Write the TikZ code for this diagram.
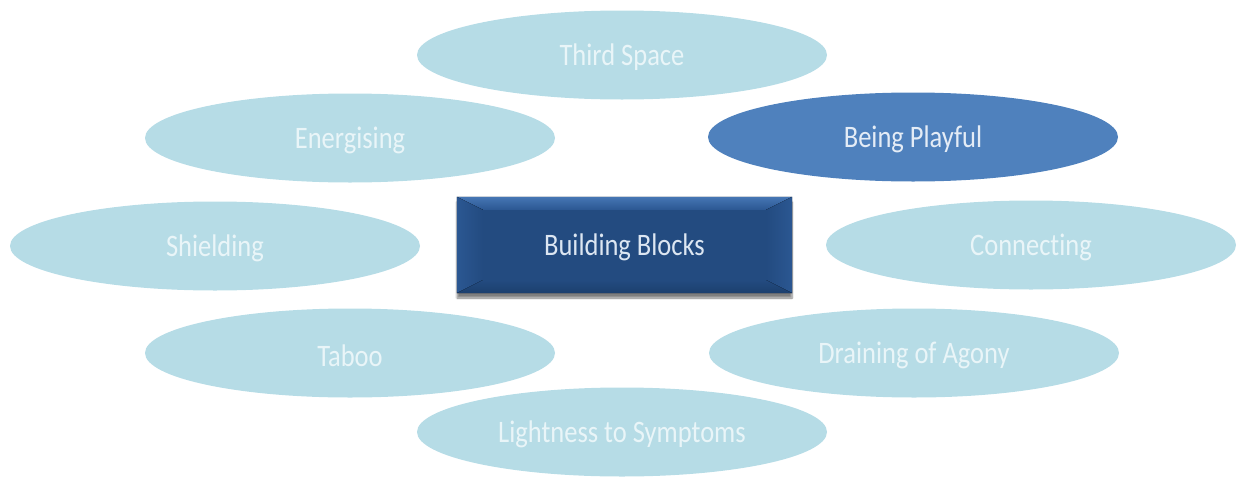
\documentclass[tikz,border=0pt]{standalone}
\usepackage{fontspec}
\setmainfont[Ligatures={NoCommon,NoRare}]{Carlito}
\usetikzlibrary{shapes.geometric,calc,shadows.blur}
\definecolor{lightfill}{HTML}{B6DCE6}
\definecolor{lighttext}{HTML}{E9F5F8}
\definecolor{midfill}{HTML}{4F81BD}
\definecolor{midtext}{HTML}{E4ECF6}
\definecolor{boxfill}{HTML}{234B80}
\definecolor{boxtop}{HTML}{4676B4}
\definecolor{boxside}{HTML}{2B5792}
\definecolor{boxbottom}{HTML}{1C3F6D}
\definecolor{boxtext}{HTML}{DCE6F2}
\newcommand{\tallt}[1]{\raisebox{-2.5pt}[\height][\depth]{\scalebox{1}[1.18]{#1}}}
\tikzset{
  oval/.style={ellipse, minimum width=410pt, minimum height=89pt, inner sep=0pt,
    font=\fontsize{26.5}{31}\selectfont},
  lightoval/.style={oval, fill=lightfill, text=lighttext},
  darkoval/.style={oval, fill=midfill, text=midtext},
  centerbox/.style={rectangle, minimum width=335pt, minimum height=96pt, inner sep=0pt,
    fill=boxfill, blur shadow={shadow xshift=0pt, shadow yshift=-5pt, shadow blur steps=7, shadow opacity=50}},
  bevel/.style={draw=none}
}
\begin{document}
\begin{tikzpicture}[x=1pt,y=-1pt]
\useasboundingbox (0,0) rectangle (1237,477);
\node[lightoval] (third) at (622,55) {\tallt{Third Space}};
\node[lightoval] (energ) at (350,138) {\tallt{Energising}};
\node[darkoval] (play) at (913,137) {\tallt{Being Playful}};
\node[lightoval] (shield) at (215,246) {\tallt{Shielding}};
\node[lightoval] (conn) at (1031,245) {\tallt{Connecting}};
\node[lightoval] (taboo) at (350,353) {\tallt{Taboo}};
\node[lightoval] (drain) at (914,353) {\tallt{Draining of Agony}};
\node[lightoval] (light) at (622,432) {\tallt{Lightness to Symptoms}};
\node[centerbox] (bb) at (624.5,245) {};
\coordinate (itl) at ($(bb.north west)+(26,13)$);
\coordinate (itr) at ($(bb.north east)+(-26,13)$);
\coordinate (ibl) at ($(bb.south west)+(26,-13)$);
\coordinate (ibr) at ($(bb.south east)+(-26,-13)$);
\fill[bevel, top color=boxtop, bottom color=boxside] (bb.north west) -- (bb.north east) -- (itr) -- (itl) -- cycle;
\fill[bevel, left color=boxside, right color=boxfill] (bb.north west) -- (itl) -- (ibl) -- (bb.south west) -- cycle;
\fill[bevel, left color=boxfill, right color=boxside] (bb.north east) -- (itr) -- (ibr) -- (bb.south east) -- cycle;
\fill[bevel, top color=boxfill, bottom color=boxbottom] (bb.south west) -- (ibl) -- (ibr) -- (bb.south east) -- cycle;
\node[font=\fontsize{26.5}{31}\selectfont, text=boxtext] (bbt) at (bb.center) {\tallt{Building Blocks}};
\end{tikzpicture}
\end{document}
